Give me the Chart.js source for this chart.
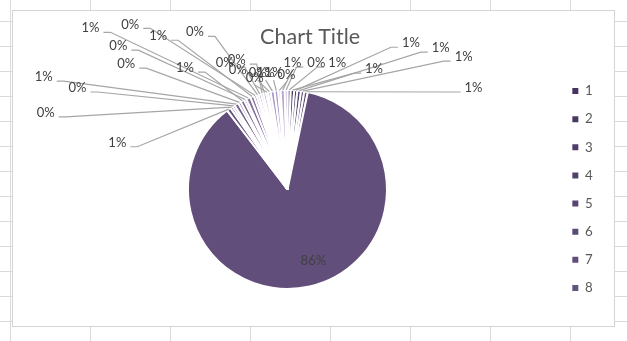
<!DOCTYPE html>
<html>
<head>
<meta charset="utf-8">
<script src="https://cdn.jsdelivr.net/npm/chart.js@4/dist/chart.umd.min.js"></script>
<style>
  html, body { margin: 0; padding: 0; width: 627px; height: 341px; overflow: hidden; }
  body {
    background-color: #fff;
    background-image:
      linear-gradient(to right, #DADADA 1px, transparent 1px),
      linear-gradient(to bottom, #DADADA 1px, transparent 1px);
    background-size: 80px 25px;
    background-position: 10px 21px;
  }
  #frame {
    position: absolute; left: 12px; top: 10px;
    width: 603px; height: 317px; box-sizing: border-box;
    border: 1px solid #D4D4D4; background: #fff;
  }
  #frame canvas { display: block; }
</style>
</head>
<body>
<div id="frame"><canvas id="pie" width="601" height="315"></canvas></div>
<script>
// Category names (one per slice)
const categories = ['1','2','3','4','5','6','7','8','9','10','11','12','13','14',
                    '15','16','17','18','19','20','21','22','23','24','25','26','27','28'];

// Share of each category
const shares = [0.52, 0.55, 0.51, 0.60, 0.53, 0.56, 86.2,
                0.68, 0.41, 0.38, 0.66, 0.44, 0.63, 0.39, 0.70, 0.61, 0.42,
                0.36, 0.40, 0.37, 0.43, 0.35, 0.41, 0.64, 0.60, 0.38, 0.67, 0.44];

// Where each percentage label sits, relative to the pie centre (in radii)
const labelSpots = [
  [0.50,-1.27], [0.87,-1.21], [1.24,-1.47], [1.54,-1.42], [1.77,-1.33], [1.87,-1.02],
  [0.26, 0.72],
  [-1.71,-0.47], [-2.43,-0.77], [-2.11,-1.02], [-2.45,-1.13], [-1.62,-1.26], [-1.03,-1.22],
  [-1.70,-1.44], [-1.98,-1.62], [-1.30,-1.54], [-1.58,-1.66], [-0.93,-1.58], [-0.63,-1.27],
  [-0.51,-1.30], [-0.50,-1.20], [-0.33,-1.12], [-0.30,-1.17], [-0.22,-1.17], [-0.14,-1.17],
  [-0.01,-1.15], [0.05,-1.27], [0.29,-1.27]
];

const legendShown = 8;      // the legend only has room for the first entries
const LABEL_FONT = '13px Lato';
const TEXT_GREY = '#595959';
const LABEL_GREY = '#404040';
const LEADER_GREY = '#A6A6A6';

// Monochrome purple ramp: dark for the first slice, light for the last
function purpleAt(i, n) {
  const dark = [70, 52, 96], light = [190, 170, 215];
  const t = n > 1 ? i / (n - 1) : 0;
  const c = dark.map((d, k) => Math.round(d + (light[k] - d) * t));
  return `rgb(${c[0]},${c[1]},${c[2]})`;
}
const sliceColors = shares.map((_, i) => purpleAt(i, shares.length));

// Percentage labels with elbow leader lines
const sliceLabels = {
  id: 'sliceLabels',
  afterDatasetsDraw(chart) {
    const ctx = chart.ctx;
    const meta = chart.getDatasetMeta(0);
    const values = chart.data.datasets[0].data;
    const total = values.reduce((a, b) => a + b, 0);
    ctx.save();
    ctx.font = LABEL_FONT;
    ctx.textAlign = 'center';
    ctx.textBaseline = 'middle';
    const texts = [];
    meta.data.forEach((arc, i) => {
      const p = arc.getProps(['x', 'y', 'startAngle', 'endAngle', 'outerRadius'], true);
      const mid = (p.startAngle + p.endAngle) / 2;
      const ax = p.x + Math.cos(mid) * p.outerRadius;
      const ay = p.y + Math.sin(mid) * p.outerRadius;
      const lx = p.x + labelSpots[i][0] * p.outerRadius;
      const ly = p.y + labelSpots[i][1] * p.outerRadius;
      const text = Math.round(values[i] / total * 100) + '%';
      const w = ctx.measureText(text).width;
      texts.push([text, lx, ly]);
      // labels that sit on their own slice need no leader
      const inside = Math.hypot(lx - p.x, ly - p.y) < p.outerRadius;
      if (inside) return;
      ctx.beginPath();
      ctx.strokeStyle = LEADER_GREY;
      ctx.lineWidth = 1.2;
      if (lx + w / 2 + 8 < ax) {
        const px = lx + w / 2 + 4, py = ly + 4;
        ctx.moveTo(px, py);
        ctx.lineTo(px + 7, py);
        ctx.lineTo(ax, ay);
      } else if (lx - w / 2 - 8 > ax) {
        const px = lx - w / 2 - 4, py = ly + 4;
        ctx.moveTo(px, py);
        ctx.lineTo(px - 7, py);
        ctx.lineTo(ax, ay);
      } else {
        ctx.moveTo(lx, ly + 7);
        ctx.lineTo(ax, ay);
      }
      ctx.stroke();
    });
    texts.forEach(([t, x, y]) => {
      ctx.fillStyle = LABEL_GREY;
      ctx.fillText(t, x, y);
    });
    ctx.restore();
  }
};

new Chart(document.getElementById('pie'), {
  type: 'pie',
  data: {
    labels: categories,
    datasets: [{
      data: shares,
      backgroundColor: sliceColors,
      borderColor: '#ffffff',
      borderWidth: 2,
      radius: 99.5
    }]
  },
  options: {
    responsive: false,
    devicePixelRatio: 1,
    animation: false,
    layout: { padding: { left: 4.5, right: 11.3, top: 0, bottom: 0 } },
    plugins: {
      tooltip: { enabled: false },
      title: {
        display: true,
        text: 'Chart Title',
        color: TEXT_GREY,
        font: { family: 'Lato', size: 21.5, weight: 'normal' },
        padding: { top: 12.8, bottom: 3.4 }
      },
      legend: {
        position: 'right',
        fullSize: false,
        labels: {
          font: { family: 'Lato', size: 13.3 },
          color: TEXT_GREY,
          boxWidth: 6,
          boxHeight: 6,
          padding: 14.84,
          generateLabels(chart) {
            const ds = chart.data.datasets[0];
            return chart.data.labels.slice(0, legendShown).map((t, i) => ({
              text: t,
              fillStyle: ds.backgroundColor[i],
              strokeStyle: ds.backgroundColor[i],
              lineWidth: 0,
              fontColor: TEXT_GREY,
              hidden: false,
              index: i
            }));
          }
        }
      }
    }
  },
  plugins: [sliceLabels]
});
</script>
</body>
</html>
